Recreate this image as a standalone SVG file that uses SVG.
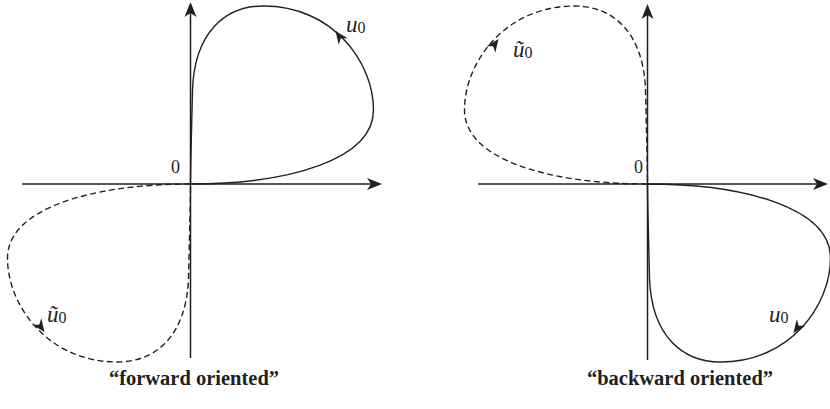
<svg xmlns="http://www.w3.org/2000/svg" xmlns:xlink="http://www.w3.org/1999/xlink" width="830" height="409" viewBox="0 0 830 409">
<style>
.axis{stroke:#231f20;stroke-width:1.5;fill:none}
.curve{stroke:#231f20;stroke-width:1.4;fill:none}
.dash{stroke-dasharray:6 3.5}
.ah{fill:#231f20}
.lab{font-family:"Liberation Serif",serif;fill:#231f20}
.it{font-style:italic;font-size:23px}
.sub{font-size:16px}
.zero{font-size:18px}
.cap{font-family:"Liberation Serif",serif;font-weight:bold;font-size:20.5px;fill:#231f20;text-anchor:middle}
</style>
<defs>
<path id="loop" d="M0,0 C100,0 183,-25 183,-74 C183,-122 142,-178 73,-178 C35,-178 4,-152 2,-94 C1,-50 0,-20 0,0"/>
<path id="ah" d="M0,0 L-13,-5.5 L-9,0 L-13,5.5 Z"/>
<path id="axh" d="M0,0 L-15,-6 L-11,0 L-15,6 Z"/>
</defs>
<g id="left-axes">
<line class="axis" x1="22" y1="184" x2="372" y2="184"/>
<use xlink:href="#axh" class="ah" transform="translate(382,184)"/>
<line class="axis" x1="190.5" y1="358" x2="190.5" y2="12"/>
<use xlink:href="#axh" class="ah" transform="translate(190.5,2) rotate(-90)"/>
<text class="lab zero" x="171" y="173">0</text>
</g>
<g id="left-solid" transform="translate(190.5,184)">
<use xlink:href="#loop" class="curve"/>
<use xlink:href="#ah" class="ah" transform="translate(145,-153) rotate(-126)"/>
</g>
<g id="left-dashed" transform="translate(190.5,184) rotate(180)">
<use xlink:href="#loop" class="curve dash"/>
<use xlink:href="#ah" class="ah" transform="translate(146,-148) rotate(-126)"/>
</g>
<g id="left-labels">
<text class="lab" x="346" y="32"><tspan class="it">u</tspan><tspan class="sub" dy="1">0</tspan></text>
<text class="lab" x="47" y="322"><tspan class="it">ũ</tspan><tspan class="sub" dy="1">0</tspan></text>
</g>
<g id="right-axes">
<line class="axis" x1="478" y1="184" x2="818" y2="184"/>
<use xlink:href="#axh" class="ah" transform="translate(828,184)"/>
<line class="axis" x1="647.5" y1="360" x2="647.5" y2="14"/>
<use xlink:href="#axh" class="ah" transform="translate(647.5,4) rotate(-90)"/>
<text class="lab zero" x="634" y="173">0</text>
</g>
<g id="right-dashed" transform="translate(647.5,184) scale(-1,1)">
<use xlink:href="#loop" class="curve dash"/>
<use xlink:href="#ah" class="ah" transform="translate(149,-145) rotate(-126)"/>
</g>
<g id="right-solid" transform="translate(647.5,184) scale(1,-1)">
<use xlink:href="#loop" class="curve"/>
<use xlink:href="#ah" class="ah" transform="translate(146,-149) rotate(-126)"/>
</g>
<g id="right-labels">
<text class="lab" x="513" y="57"><tspan class="it">ũ</tspan><tspan class="sub" dy="1">0</tspan></text>
<text class="lab" x="769" y="322"><tspan class="it">u</tspan><tspan class="sub" dy="1">0</tspan></text>
</g>
<g id="captions">
<text class="cap" x="194" y="385">“forward oriented”</text>
<text class="cap" x="680" y="385">“backward oriented”</text>
</g>
</svg>
